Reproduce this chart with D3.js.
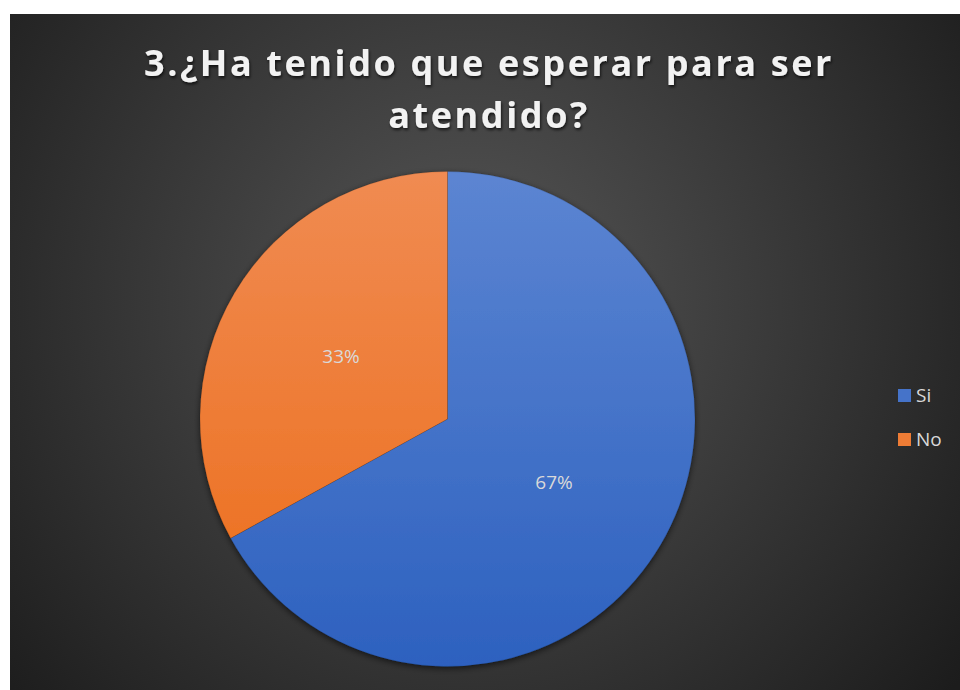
<!DOCTYPE html>
<html>
<head>
<meta charset="utf-8">
<script src="https://cdn.jsdelivr.net/npm/d3@7"></script>
<style>
  html, body { margin: 0; padding: 0; background: #fff; }
  svg { display: block; }
</style>
</head>
<body>
<div id="chart"></div>
<script>
const categories = ["Si", "No"];
const values = [67, 33];
const titleLines = ["3.¿Ha tenido que esperar para ser", "atendido?"];
const colorsTop = ["#5c85d2", "#f08b52"];
const colorsBottom = ["#2d61bf", "#ec6c18"];

const width = 960, height = 690;
const svg = d3.select("#chart").append("svg")
    .attr("width", width)
    .attr("height", height);

const defs = svg.append("defs");

// background radial gradient
const bg = defs.append("radialGradient")
    .attr("id", "bg")
    .attr("gradientUnits", "userSpaceOnUse")
    .attr("cx", 470).attr("cy", 300).attr("r", 620);
bg.append("stop").attr("offset", "0%").attr("stop-color", "#565656");
bg.append("stop").attr("offset", "100%").attr("stop-color", "#1c1c1c");

const cx = 447.5, cy = 419, radius = 247.5;

// slice gradients, in the pie group's own coordinates
categories.forEach((c, i) => {
  const g = defs.append("linearGradient")
      .attr("id", "grad" + i)
      .attr("gradientUnits", "userSpaceOnUse")
      .attr("x1", 0).attr("y1", -radius)
      .attr("x2", 0).attr("y2", radius);
  g.append("stop").attr("offset", "0%").attr("stop-color", colorsTop[i]);
  g.append("stop").attr("offset", "100%").attr("stop-color", colorsBottom[i]);
});

const shadow = defs.append("filter").attr("id", "shadow")
    .attr("x", "-10%").attr("y", "-10%").attr("width", "120%").attr("height", "120%");
shadow.append("feDropShadow")
    .attr("dx", 0).attr("dy", 2).attr("stdDeviation", 3)
    .attr("flood-color", "#000").attr("flood-opacity", 0.6);

const tshadow = defs.append("filter").attr("id", "tshadow");
tshadow.append("feDropShadow")
    .attr("dx", 1).attr("dy", 2).attr("stdDeviation", 1.5)
    .attr("flood-color", "#000").attr("flood-opacity", 0.7);

svg.append("rect")
    .attr("x", 10).attr("y", 14)
    .attr("width", width - 10).attr("height", height - 14)
    .attr("fill", "url(#bg)");

// title
svg.append("text")
    .attr("x", 489)
    .attr("text-anchor", "middle")
    .attr("font-family", "'Open Sans', sans-serif")
    .attr("font-weight", 700)
    .attr("font-size", 36)
    .attr("letter-spacing", 2.6)
    .attr("fill", "#f2f2f2")
    .attr("filter", "url(#tshadow)")
    .selectAll("tspan")
    .data(titleLines).enter()
    .append("tspan")
    .attr("x", 489)
    .attr("y", (d, i) => 76 + i * 52)
    .text(d => d);

// pie
const pie = d3.pie().sort(null).value(d => d.value);
const arcs = pie(categories.map((c, i) => ({ name: c, value: values[i], i })));
const arc = d3.arc().innerRadius(0).outerRadius(radius);
const labelArc = d3.arc().innerRadius(radius * 0.5).outerRadius(radius * 0.5);

const pg = svg.append("g")
    .attr("transform", `translate(${cx},${cy})`);

pg.append("g").attr("filter", "url(#shadow)")
  .selectAll("path")
  .data(arcs).enter()
  .append("path")
    .attr("d", arc)
    .attr("fill", d => `url(#grad${d.data.i})`)
    .attr("stroke", "rgba(0,0,0,0.15)")
    .attr("stroke-width", 0.8);

const total = d3.sum(values);
pg.selectAll("text.lbl")
  .data(arcs).enter()
  .append("text")
    .attr("class", "lbl")
    .attr("transform", d => `translate(${labelArc.centroid(d)})`)
    .attr("text-anchor", "middle")
    .attr("dy", "0.35em")
    .attr("font-family", "'Open Sans', sans-serif")
    .attr("font-size", 19)
    .attr("fill", "#d9d9d9")
    .text(d => Math.round(d.data.value / total * 100) + "%");

// legend
const legend = svg.append("g")
    .attr("transform", "translate(898,389)");
const lg = legend.selectAll("g")
  .data(categories).enter()
  .append("g")
    .attr("transform", (d, i) => `translate(0,${i * 44})`);
lg.append("rect")
    .attr("width", 13).attr("height", 13)
    .attr("fill", (d, i) => d3.interpolateRgb(colorsTop[i], colorsBottom[i])(0.5));
lg.append("text")
    .attr("x", 18).attr("y", 6.5)
    .attr("dy", "0.35em")
    .attr("font-family", "'Open Sans', sans-serif")
    .attr("font-size", 19)
    .attr("fill", "#d9d9d9")
    .text(d => d);
</script>
</body>
</html>
